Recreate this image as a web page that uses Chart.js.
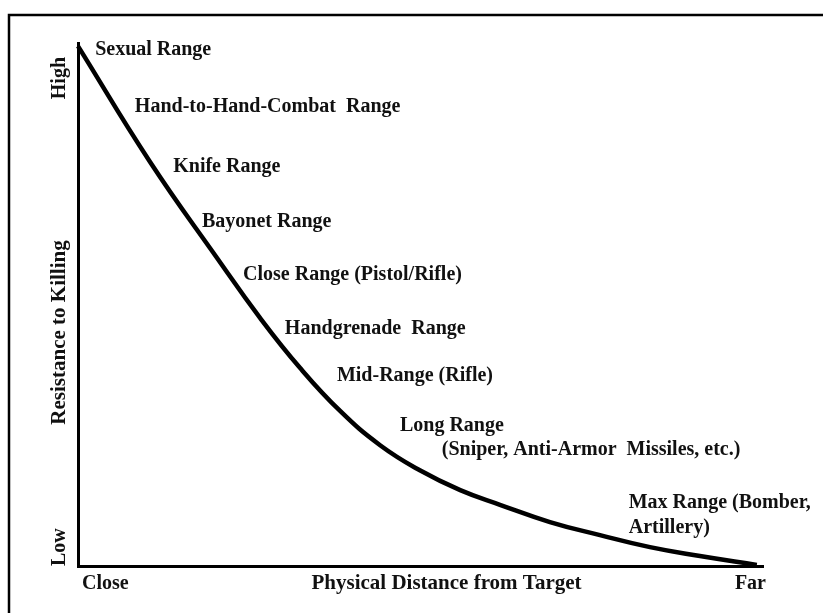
<!DOCTYPE html>
<html>
<head>
<meta charset="utf-8">
<script src="https://cdn.jsdelivr.net/npm/chart.js@4/dist/chart.umd.min.js"></script>
<style>
html,body{margin:0;padding:0;background:#fff;}
#wrap{width:823px;height:613px;position:relative;}
</style>
</head>
<body>
<div id="wrap"><canvas id="c" width="823" height="613"></canvas></div>
<script>
// Curve: distance (0 = close, 100 = far) vs resistance to killing (0 = low, 100 = high)
const distance   = [0, 10.5, 20.3, 26.6, 32.4, 38.3, 44.1, 49.9, 55.8, 61.6, 68.9, 76.2, 83.5, 90.8, 99.1];
const resistance = [99.4, 77.3, 58.9, 47.4, 37.9, 29.6, 23.1, 18.3, 14.5, 11.7, 8.4, 5.9, 3.6, 1.9, 0.2];

// Range annotations, anchored in data units
const rangeLabels = ["Sexual Range", "Hand-to-Hand-Combat  Range", "Knife Range", "Bayonet Range",
  "Close Range (Pistol/Rifle)", "Handgrenade  Range", "Mid-Range (Rifle)", "Long Range",
  "(Sniper, Anti-Armor  Missiles, etc.)", "Max Range (Bomber,", "Artillery)"];
const rangeX = [2.5, 8.3, 13.9, 18.1, 24.1, 30.2, 37.8, 47.0, 53.1, 80.4, 80.4];
const rangeY = [98.7, 87.8, 76.3, 65.8, 55.6, 45.3, 36.3, 26.8, 22.2, 12.0, 7.3];

// Axis end labels and titles
const xEndLabels = ["Close", "Far"];
const yEndLabels = ["Low", "High"];
const xTitle = "Physical Distance from Target";
const yTitle = "Resistance to Killing";

const points = distance.map((d, i) => ({x: d, y: resistance[i]}));
const FAMILY = "'Liberation Serif', 'Times New Roman', serif";
const LABEL_FONT = "bold 20px " + FAMILY;
const TITLE_FONT = "bold 21px " + FAMILY;

const annotate = {
  id: 'annotate',
  beforeDraw(chart) {
    const ctx = chart.ctx;
    ctx.save();
    ctx.strokeStyle = '#000';
    ctx.lineWidth = 2.5;
    ctx.strokeRect(9, 15, 900, 700);
    ctx.restore();
  },
  afterDraw(chart) {
    const ctx = chart.ctx;
    const xs = chart.scales.x, ys = chart.scales.y;
    const a = chart.chartArea;
    ctx.save();
    ctx.fillStyle = '#111';
    ctx.font = LABEL_FONT;
    ctx.textBaseline = 'middle';
    ctx.textAlign = 'left';
    rangeLabels.forEach((t, i) => {
      ctx.fillText(t, xs.getPixelForValue(rangeX[i]), ys.getPixelForValue(rangeY[i]));
    });
    // x axis labels
    const ty = a.bottom + 18;
    ctx.textAlign = 'left';
    ctx.fillText(xEndLabels[0], a.left + 4, ty);
    ctx.textAlign = 'right';
    ctx.fillText(xEndLabels[1], a.right + 3, ty);
    ctx.font = TITLE_FONT;
    ctx.textAlign = 'center';
    ctx.fillText(xTitle, (a.left + a.right) / 2 + 26, ty);
    // y axis labels (rotated)
    const tx = a.left - 18;
    const vtext = (t, y, align, font) => {
      ctx.save();
      ctx.font = font;
      ctx.translate(tx, y);
      ctx.rotate(-Math.PI / 2);
      ctx.textAlign = align;
      ctx.fillText(t, 0, 0);
      ctx.restore();
    };
    vtext(yEndLabels[0], a.bottom, 'left', LABEL_FONT);
    vtext(yEndLabels[1], a.top + 14, 'right', LABEL_FONT);
    vtext(yTitle, (a.top + a.bottom) / 2 + 28, 'center', TITLE_FONT);
    ctx.restore();
  }
};

new Chart(document.getElementById('c'), {
  type: 'scatter',
  data: {
    datasets: [{
      data: points,
      showLine: true,
      borderColor: '#000',
      borderWidth: 4.5,
      pointRadius: 0,
      tension: 0.45,
      clip: false
    }]
  },
  options: {
    responsive: false,
    animation: false,
    devicePixelRatio: 1,
    layout: {padding: {top: 43, right: 60, left: 0, bottom: 0}},
    plugins: {legend: {display: false}, tooltip: {enabled: false}},
    scales: {
      x: {
        type: 'linear', min: 0, max: 100,
        grid: {display: false},
        ticks: {display: false},
        border: {display: true, color: '#000', width: 3},
        afterFit(s) { s.height = 47; }
      },
      y: {
        type: 'linear', min: 0, max: 100,
        grid: {display: false},
        ticks: {display: false},
        border: {display: true, color: '#000', width: 3},
        afterFit(s) { s.width = 78; }
      }
    }
  },
  plugins: [annotate]
});
</script>
</body>
</html>
